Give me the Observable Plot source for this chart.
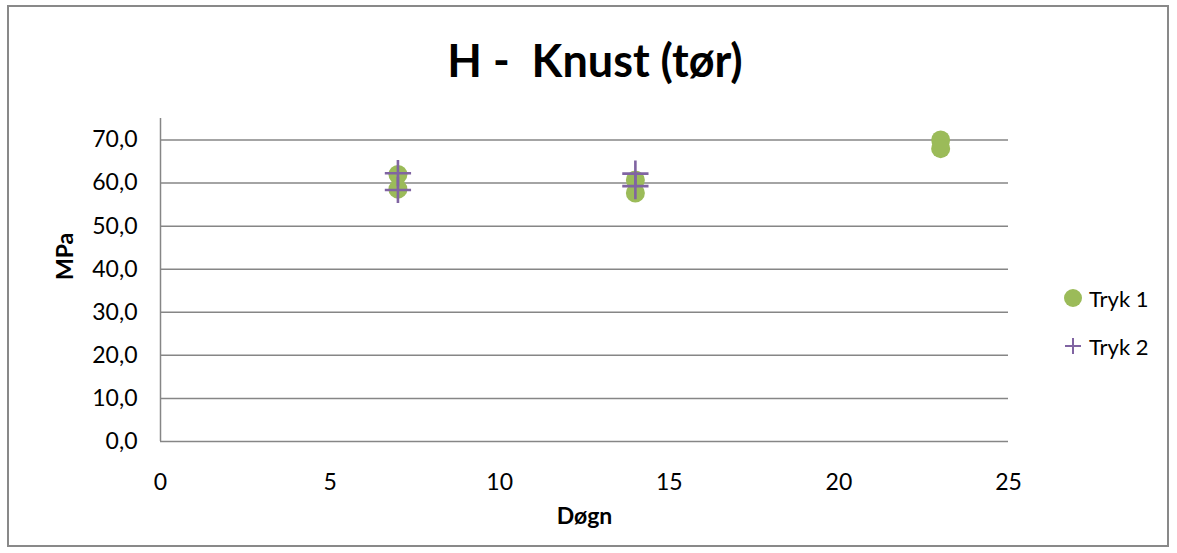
<!DOCTYPE html>
<html>
<head>
<meta charset="utf-8">
<script src="https://cdn.jsdelivr.net/npm/d3@7"></script>
<script src="https://cdn.jsdelivr.net/npm/@observablehq/plot@0.6"></script>
<style>
  html, body { margin: 0; padding: 0; background: #fff; }
  #wrap { position: relative; width: 1177px; height: 553px; font-family: Lato, "Open Sans", sans-serif; }
  #border { position: absolute; left: 7px; top: 5px; width: 1162px; height: 542px; border: 2px solid #898989; box-sizing: border-box; }
  #title { position: absolute; left: 0; width: 1190px; top: 33px; text-align: center; font-size: 45px; line-height: 54px; font-weight: bold; color: #000; white-space: pre; }
  #chart { position: absolute; left: 0; top: 0; }
  #legend { position: absolute; left: 1062px; top: 283px; font-size: 22px; color: #000; }
  .item { display: flex; align-items: center; height: 30px; }
  .item svg { margin-right: 5px; }
</style>
</head>
<body>
<div id="wrap">
  <div id="border"></div>
  <div id="chart"></div>
  <div id="title">H -  Knust (tør)</div>
  <div id="legend">
    <div class="item"><svg width="22" height="22"><circle cx="11" cy="11" r="9" fill="#9BBB59"/></svg>Tryk 1</div>
    <div class="item" style="margin-top:18px"><svg width="22" height="22"><path d="M3,11H19M11,3V19" stroke="#8064A2" stroke-width="2"/></svg>Tryk 2</div>
  </div>
</div>
<script>
const days1 = [7, 7, 14, 14, 23, 23];
const tryk1 = [62.0, 58.6, 60.7, 57.7, 70.0, 68.0];
const days2 = [7, 7, 14, 14];
const tryk2 = [62.3, 58.4, 62.2, 59.3];
const xTicks = [0, 5, 10, 15, 20, 25];
const yTicks = [0, 10, 20, 30, 40, 50, 60, 70];

const s1 = days1.map((d, i) => ({x: d, y: tryk1[i]}));
const s2 = days2.map((d, i) => ({x: d, y: tryk2[i]}));
const fmt = d => d.toFixed(1).replace(".", ",");

const chart = Plot.plot({
  width: 1177,
  height: 553,
  marginLeft: 160,
  marginRight: 169,
  marginTop: 118,
  marginBottom: 112,
  style: {fontFamily: "Lato, 'Open Sans', sans-serif", fontSize: "23px", color: "#000", background: "transparent"},
  x: {domain: [0, 25], label: null},
  y: {domain: [0, 75], label: null},
  marks: [
    Plot.ruleY(yTicks, {stroke: "#868686", strokeWidth: 1.5}),
    Plot.ruleX([0], {stroke: "#868686", strokeWidth: 1.5}),
    Plot.axisX({ticks: xTicks, tickSize: 0, tickPadding: 32, tickFormat: d => String(d), fontSize: 23, label: null}),
    Plot.axisY({ticks: yTicks, tickSize: 0, tickPadding: 23, tickFormat: fmt, fontSize: 23, label: null}),
    Plot.dot(s1, {x: "x", y: "y", r: 9.5, fill: "#9BBB59", stroke: "none"}),
    Plot.dot(s2, {x: "x", y: "y", symbol: "plus", r: 8.5, stroke: "#8064A2", strokeWidth: 2.6, fill: "none"}),
    Plot.text(["Døgn"], {frameAnchor: "bottom", dy: 82, fontWeight: "bold", fontSize: 23}),
    Plot.text(["MPa"], {frameAnchor: "left", dx: -95, rotate: -90, fontWeight: "bold", fontSize: 23})
  ]
});
document.getElementById("chart").appendChild(chart);
</script>
</body>
</html>
